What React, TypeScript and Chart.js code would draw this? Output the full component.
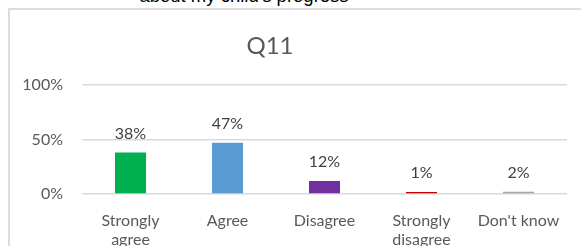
import React, { useEffect, useRef } from "react";
import { Chart, registerables } from "chart.js";

Chart.register(...registerables);

const categories: (string | string[])[] = [
  ["Strongly", "agree"],
  "Agree",
  "Disagree",
  ["Strongly", "disagree"],
  "Don't know",
];
const values: number[] = [0.38, 0.47, 0.12, 0.01, 0.02];
const barColors: string[] = ["#00B050", "#5B9BD5", "#7030A0", "#C00000", "#A5A5A5"];
const yTicks: number[] = [0, 0.5, 1];
const chartTitle = "Q11";
const headerText = "about my child's progress";

const FONT = "Lato, 'Noto Sans', sans-serif";

const valueLabels = {
  id: "valueLabels",
  afterDatasetsDraw(chart: any) {
    const ctx = chart.ctx;
    const meta = chart.getDatasetMeta(0);
    ctx.save();
    ctx.font = `16px ${FONT}`;
    ctx.fillStyle = "#404040";
    ctx.textAlign = "center";
    ctx.textBaseline = "bottom";
    meta.data.forEach((el: any, i: number) => {
      const v = chart.data.datasets[0].data[i] as number;
      ctx.fillText(Math.round(v * 100) + "%", el.x, el.y - 11);
    });
    ctx.restore();
  },
};

export default function App() {
  const ref = useRef<HTMLCanvasElement>(null);
  useEffect(() => {
    if (!ref.current) return;
    const chart = new Chart(ref.current, {
      type: "bar",
      data: {
        labels: categories,
        datasets: [
          {
            data: values,
            backgroundColor: barColors,
            categoryPercentage: 1,
            barPercentage: 0.32,
            minBarLength: 2,
          },
        ],
      },
      options: {
        animation: false,
        responsive: false,
        maintainAspectRatio: false,
        layout: { padding: { left: 0, right: 14, top: 85, bottom: 0 } },
        plugins: {
          legend: { display: false },
          title: { display: false },
          tooltip: { enabled: false },
        },
        scales: {
          x: {
            grid: { display: false },
            border: { display: false },
            ticks: {
              color: "#595959",
              font: { family: FONT, size: 16, lineHeight: 1.2 },
              padding: 9,
              maxRotation: 0,
              autoSkip: false,
            },
            afterFit(scale: any) {
              scale.height = 246 - 194;
            },
          },
          y: {
            min: 0,
            max: 1,
            afterBuildTicks(scale: any) {
              scale.ticks = yTicks.map((v) => ({ value: v }));
            },
            grid: { color: "#D9D9D9", lineWidth: 1.5, drawTicks: false },
            border: { display: false },
            ticks: {
              color: "#595959",
              font: { family: FONT, size: 16 },
              padding: 19,
              callback: (v: any) => Math.round(Number(v) * 100) + "%",
            },
            afterFit(scale: any) {
              scale.width = 82;
            },
          },
        },
      },
      plugins: [valueLabels],
    });
    return () => chart.destroy();
  }, []);

  return (
    <div style={{ position: "fixed", left: 0, top: 0, width: 581, height: 246, overflow: "hidden", background: "#fff" }}>
      <div
        style={{
          position: "absolute",
          left: 0,
          width: 488,
          top: -15,
          textAlign: "center",
          fontFamily: "'Liberation Sans', Arial, sans-serif",
          fontSize: 18.5,
          color: "#000",
          whiteSpace: "nowrap",
        }}
      >
        {headerText}
      </div>
      <div
        style={{
          position: "absolute",
          left: 8,
          top: 8,
          width: 700,
          height: 400,
          border: "2px solid #DDDDDD",
          boxSizing: "border-box",
        }}
      />
      <canvas ref={ref} width={581} height={246} style={{ position: "absolute", left: 0, top: 0 }} />
      <div
        style={{
          position: "absolute",
          left: 0,
          width: 540,
          top: 30,
          textAlign: "center",
          fontFamily: FONT,
          fontSize: 24,
          color: "#595959",
          lineHeight: "30px",
        }}
      >
        {chartTitle}
      </div>
    </div>
  );
}
